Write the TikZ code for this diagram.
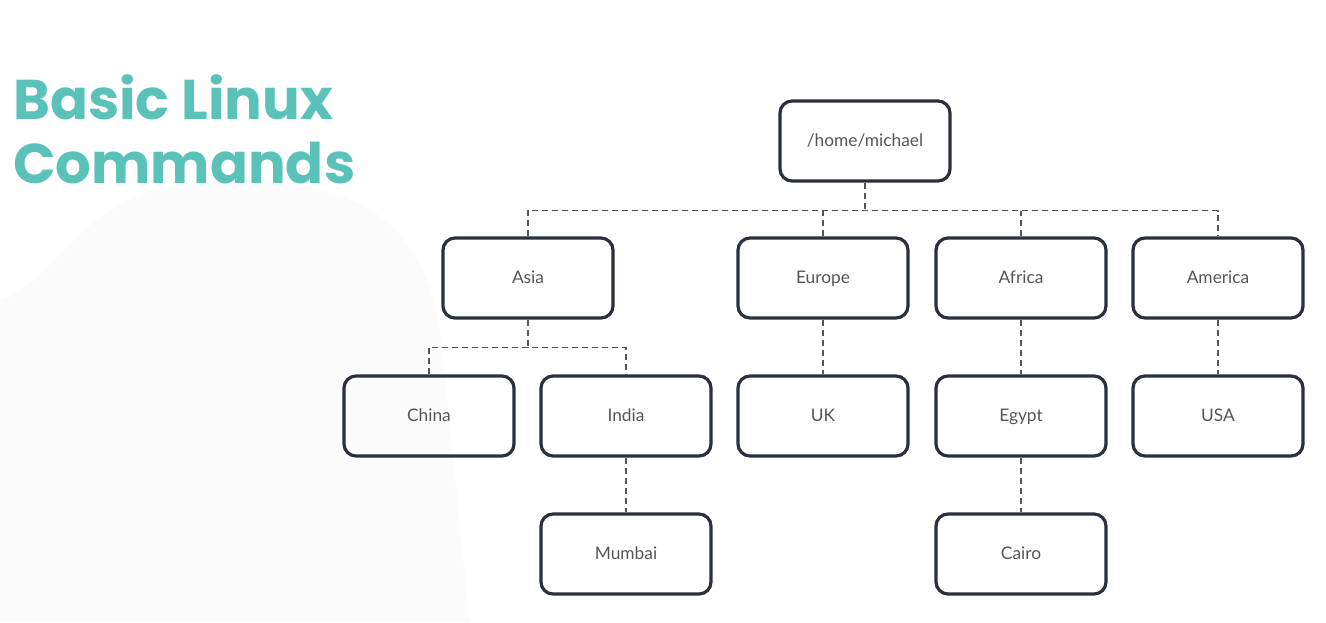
\documentclass[tikz,border=0pt]{standalone}
\usepackage{fontspec}
\setmainfont{Lato}
\newfontfamily\titlefont{Poppins}
\usetikzlibrary{positioning}
\definecolor{teal1}{HTML}{5BC2B9}
\definecolor{navy1}{HTML}{2B303D}
\definecolor{txt1}{HTML}{555555}
\tikzset{
	dir/.style={draw=navy1,line width=2.4pt,rounded corners=9pt,
		minimum width=127.5pt,minimum height=60pt,inner sep=0pt,
		text height=11pt,text depth=3pt,
		text=txt1,font=\fontsize{13}{15}\selectfont},
	link/.style={draw=txt1,line width=1.1pt,dash pattern=on 4.5pt off 3pt},
	title/.style={text=teal1,font=\titlefont\bfseries\fontsize{42}{48}\selectfont,
		align=left,anchor=north west,inner sep=0pt}
}
\begin{document}
\begin{tikzpicture}[x=0.75pt,y=-0.75pt]
	\useasboundingbox (0,0) rectangle (1326,622);
	\fill[black!1.5] (0,300) .. controls (60,280) and (80,190) .. (200,182)
		.. controls (330,175) and (420,200) .. (440,330) -- (470,622) -- (0,622) -- cycle;
	\node[title] (head) at (13,74) {Basic Linux\\Commands};
	% tree
	\node[dir] (home) at (865,141) {/home/michael};
	\node[dir] (asia) at (528,278) {Asia};
	\node[dir] (europe) at (823,278) {Europe};
	\node[dir] (africa) at (1021,278) {Africa};
	\node[dir] (america) at (1218,278) {America};
	\node[dir] (china) at (429,416) {China};
	\node[dir] (india) at (626,416) {India};
	\node[dir] (uk) at (823,416) {UK};
	\node[dir] (egypt) at (1021,416) {Egypt};
	\node[dir] (usa) at (1218,416) {USA};
	\node[dir] (mumbai) at (626,554) {Mumbai};
	\node[dir] (cairo) at (1021,554) {Cairo};
	\draw[link] (home.south) -- ++(0,28) coordinate (hj);
	\draw[link] (asia.north) |- (hj) -| (america.north);
	\draw[link] (europe.north) -- (europe.north |- hj);
	\draw[link] (africa.north) -- (africa.north |- hj);
	\draw[link] (asia.south) -- ++(0,28) coordinate (aj);
	\draw[link] (china.north) |- (aj) -| (india.north);
	\draw[link] (europe) -- (uk);
	\draw[link] (africa) -- (egypt);
	\draw[link] (america) -- (usa);
	\draw[link] (india) -- (mumbai);
	\draw[link] (egypt) -- (cairo);
\end{tikzpicture}
\end{document}
